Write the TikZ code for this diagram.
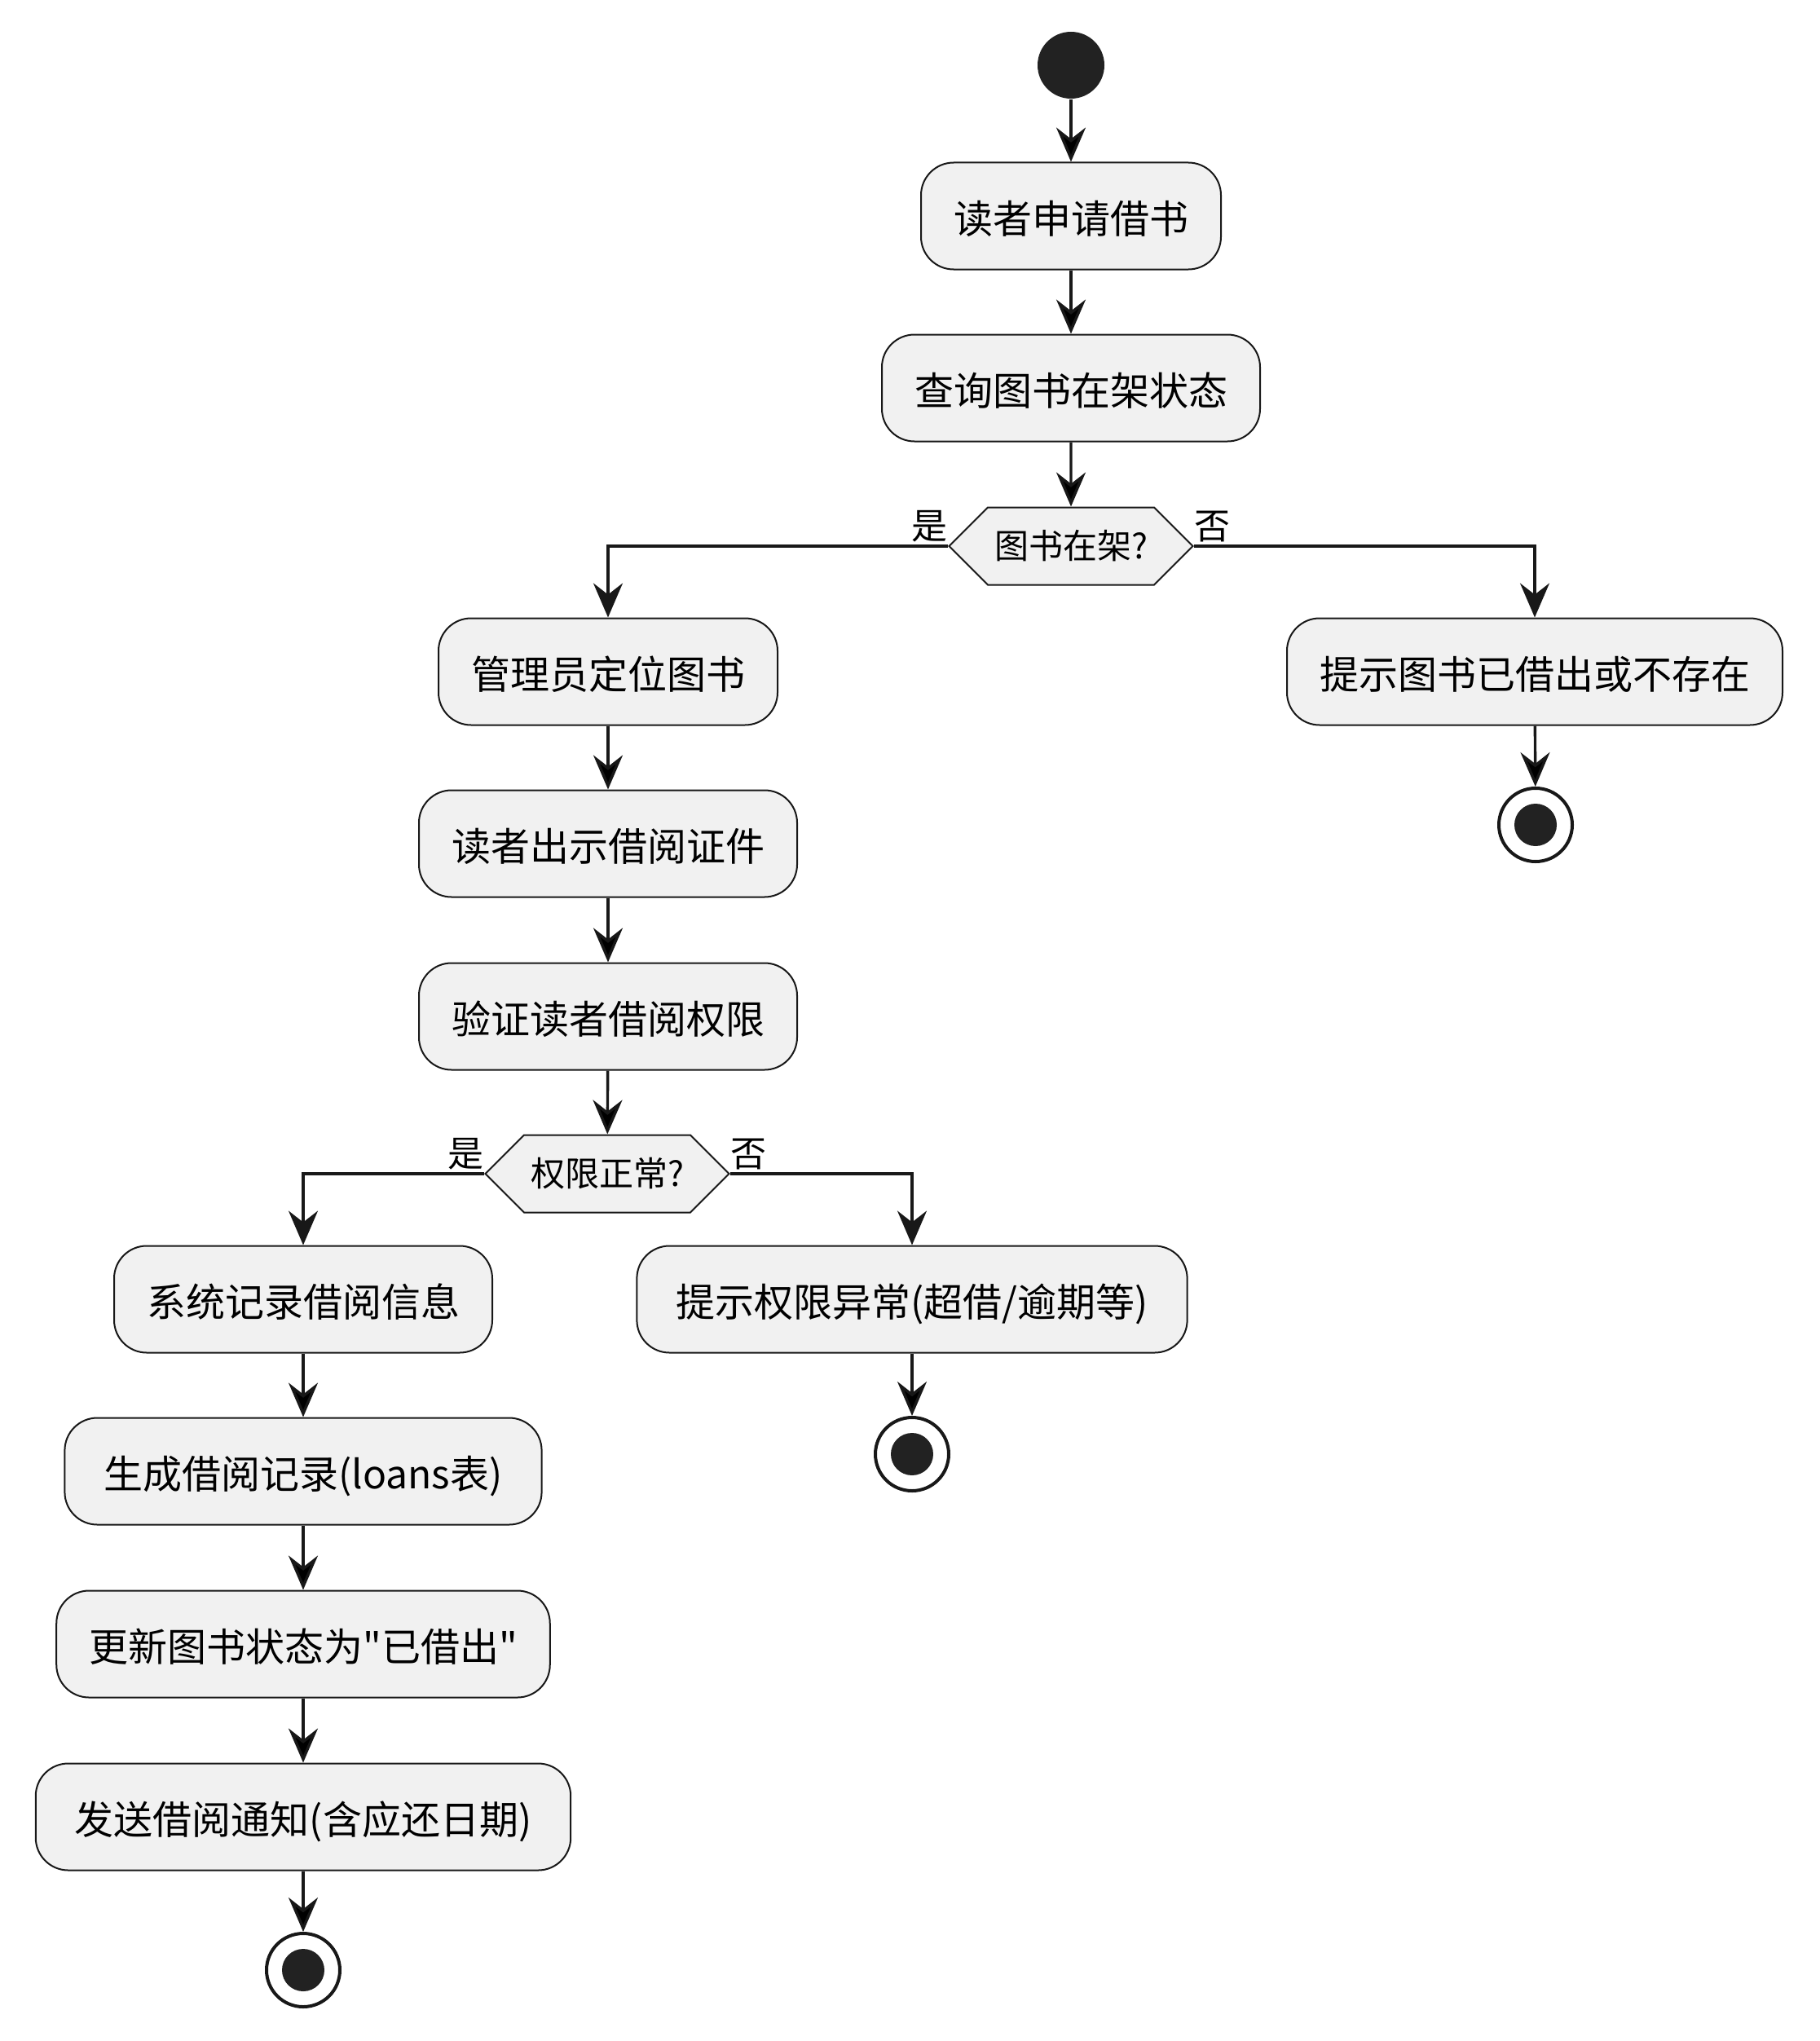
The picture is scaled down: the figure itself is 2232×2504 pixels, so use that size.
\documentclass[tikz,border=0pt]{standalone}
\usepackage{fontspec}
\setmainfont{Noto Sans CJK SC}[Ligatures=TeXOff]
\usetikzlibrary{arrows.meta,shapes.symbols}
\definecolor{boxfill}{HTML}{F1F1F1}
\definecolor{ink}{HTML}{181818}
\definecolor{dot}{HTML}{222222}
\tikzset{> = {Stealth[length=10.5pt,width=9pt,inset=3.5pt]}}
\tikzset{
  act/.style={rectangle, rounded corners=10pt, draw=ink, fill=boxfill, line width=0.5pt,
    minimum height=32.75pt, inner xsep=10pt, text height=12pt, text depth=1.5pt,
    font=\fontsize{12}{14}\selectfont},
  choice/.style={signal, signal to=east and west, signal pointer angle=90, draw=ink,
    fill=boxfill, line width=0.5pt, minimum height=23.75pt, inner xsep=2pt,
    font=\fontsize{10.5}{12}\selectfont},
  lbl/.style={inner xsep=0pt, inner ysep=1pt, font=\fontsize{11}{12}\selectfont},
  startdot/.style={circle, fill=dot, minimum size=20.5pt, inner sep=0pt},
  enddot/.style={circle, draw=ink, line width=1pt, minimum size=22.5pt, inner sep=0pt,
    path picture={\fill[dot] (path picture bounding box.center) circle (6.5pt);}},
  flow/.style={->, line width=0.85pt, draw=ink}
}

\begin{document}
\begin{tikzpicture}[x=0.25pt, y=-0.25pt]
\useasboundingbox (0,0) rectangle (2232,2504);
% nodes
\node[startdot] (start) at (1314, 80) {};
\node[act] (ask) at (1314, 265) {读者申请借书};
\node[act] (query) at (1314, 476) {查询图书在架状态};
\node[choice] (d1) at (1314, 670) {图书在架?}; % first decision
\node[act] (locate) at (746, 824) {管理员定位图书};
\node[act] (nobook) at (1883, 824) {提示图书已借出或不存在};
\node[enddot] (end1) at (1884, 1012) {};
\node[act] (showcard) at (746, 1035) {读者出示借阅证件};
\node[act] (verify) at (746, 1247) {验证读者借阅权限};
\node[choice] (d2) at (745, 1440) {权限正常?}; % second decision
\node[act] (record) at (372, 1594) {系统记录借阅信息};
\node[act, inner xsep=12pt] (denied) at (1119, 1594) {提示权限异常(超借/逾期等)};
\node[enddot] (end2) at (1119, 1784) {};
\node[act, inner xsep=12pt] (genloan) at (372, 1805) {生成借阅记录(loans表)};
\node[act] (update) at (372, 2017) {更新图书状态为"已借出"};
\node[act, inner xsep=12pt] (notify) at (372, 2229) {发送借阅通知(含应还日期)};
\node[enddot] (end3) at (372, 2417) {};
% branch labels
\node[lbl, anchor=south east] (yes1) at (d1.west) {是};
\node[lbl, anchor=south west] (no1) at (d1.east) {否};
\node[lbl, anchor=south east] (yes2) at (d2.west) {是};
\node[lbl, anchor=south west] (no2) at (d2.east) {否};
% edges
\draw[flow]
(start) edge (ask)
(ask) edge (query)
(query) edge (d1)
(nobook) edge (end1)
(locate) edge (showcard)
(showcard) edge (verify)
(verify) edge (d2)
(record) edge (genloan)
(genloan) edge (update)
(update) edge (notify)
(notify) edge (end3)
(denied) edge (end2);
% branches
\draw[flow] (d1.west) -| (locate.north);
\draw[flow] (d1.east) -| (nobook.north);
\draw[flow] (d2.west) -| (record.north);
\draw[flow] (d2.east) -| (denied.north);
\end{tikzpicture}
\end{document}
